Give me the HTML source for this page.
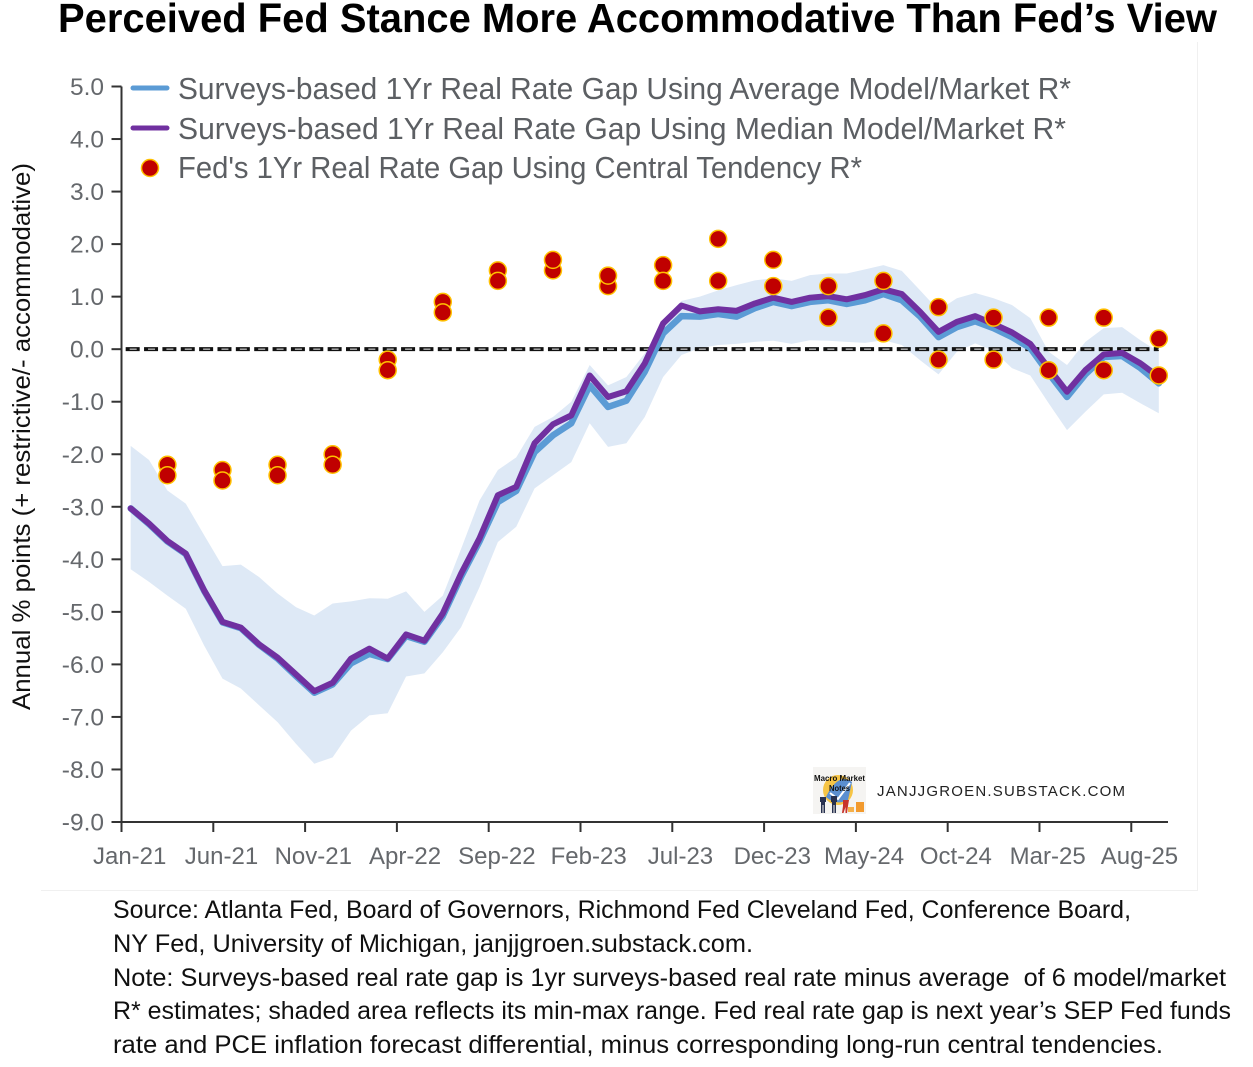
<!DOCTYPE html>
<html lang="en">
<head>
<meta charset="utf-8">
<title>Perceived Fed Stance More Accommodative Than Fed's View</title>
<style>
html,body{margin:0;padding:0;background:#fff;width:1253px;height:1067px;overflow:hidden}
svg{display:block}
text{font-family:"Liberation Sans",Arial,sans-serif;white-space:pre}
.legend-text{font-size:30.500px;fill:#5c5f63}
.note{font-size:25px;fill:#101010}
.tick-text{fill:#65686c}
</style>
</head>
<body>
<svg id="chart" xmlns="http://www.w3.org/2000/svg" width="1253" height="1067" viewBox="0 0 1253 1067">
  <rect x="0" y="0" width="1253" height="1067" fill="#ffffff"/>
  <path d="M41 890.5H1197.5V42" fill="none" stroke="#f0f0f0" stroke-width="1"/>
  <text x="58" y="32" font-size="41" font-weight="700" fill="#000" textLength="1159" lengthAdjust="spacingAndGlyphs">Perceived Fed Stance More Accommodative Than Fed’s View</text>
  <text transform="translate(30,710) rotate(-90)" font-size="25" fill="#111" textLength="547" lengthAdjust="spacingAndGlyphs">Annual % points (+ restrictive/- accommodative)</text>

  <g id="plot"></g>

  <g>
    <line x1="133" y1="88" x2="167" y2="88" stroke="#5b9bd5" stroke-width="5" stroke-linecap="round"/>
    <text class="legend-text" x="178" y="99" textLength="893" lengthAdjust="spacingAndGlyphs">Surveys-based 1Yr Real Rate Gap Using Average Model/Market R*</text>
    <line x1="133" y1="128" x2="167" y2="128" stroke="#7030a0" stroke-width="5" stroke-linecap="round"/>
    <text class="legend-text" x="178" y="139" textLength="888" lengthAdjust="spacingAndGlyphs">Surveys-based 1Yr Real Rate Gap Using Median Model/Market R*</text>
    <circle cx="150" cy="168" r="8.500" fill="#c00000" stroke="#ffc000" stroke-width="1.500"/>
    <text class="legend-text" x="178" y="178" textLength="684" lengthAdjust="spacingAndGlyphs">Fed's 1Yr Real Rate Gap Using Central Tendency R*</text>
  </g>

  <g>
    <rect x="813" y="767" width="53" height="47" fill="#f5f4f2"/>
    <circle cx="838" cy="790" r="15" fill="#f6c445"/>
    <path d="M826 797 Q838 772 852 782 L848 800 Q836 806 826 797Z" fill="#5b8fd0"/>
    <path d="M830 793 L838 799 L850 783" fill="none" stroke="#ffffff" stroke-width="2"/>
    <path d="M820 797h6v5h-1v11h-1.500v-8h-1v8H821v-11h-1z" fill="#28314f"/>
    <path d="M831 796h6v6h-1v11h-1.500v-8h-1v8H832v-11h-1z" fill="#28314f"/>
    <path d="M843 800h6l-1 6-1 7h-1.500v-6l-2 6H842l1-7z" fill="#c8322b"/>
    <rect x="856" y="802" width="8" height="10" fill="#f29a2e"/>
    <rect x="848" y="807" width="6" height="5" fill="#f6b04a"/>
    <text x="814" y="781" font-size="8" font-weight="700" fill="#111" textLength="51" lengthAdjust="spacingAndGlyphs">Macro Market</text>
    <text x="829" y="791" font-size="8" font-weight="700" fill="#111" textLength="21" lengthAdjust="spacingAndGlyphs">Notes</text>
  </g>
  <text x="877" y="796" font-size="15" fill="#222" textLength="248" lengthAdjust="spacing">JANJJGROEN.SUBSTACK.COM</text>

  <g>
    <text class="note" x="113" y="918" textLength="1018" lengthAdjust="spacingAndGlyphs">Source: Atlanta Fed, Board of Governors, Richmond Fed Cleveland Fed, Conference Board,</text>
    <text class="note" x="113" y="952" textLength="640" lengthAdjust="spacingAndGlyphs">NY Fed, University of Michigan, janjjgroen.substack.com.</text>
    <text class="note" x="113" y="986" textLength="1113" lengthAdjust="spacingAndGlyphs">Note: Surveys-based real rate gap is 1yr surveys-based real rate minus average  of 6 model/market</text>
    <text class="note" x="113" y="1019" textLength="1118" lengthAdjust="spacingAndGlyphs">R* estimates; shaded area reflects its min-max range. Fed real rate gap is next year’s SEP Fed funds</text>
    <text class="note" x="113" y="1053" textLength="1050" lengthAdjust="spacingAndGlyphs">rate and PCE inflation forecast differential, minus corresponding long-run central tendencies.</text>
  </g>
</svg>
<script>
const months = ['Jan-21','Feb-21','Mar-21','Apr-21','May-21','Jun-21','Jul-21','Aug-21','Sep-21','Oct-21','Nov-21','Dec-21',
'Jan-22','Feb-22','Mar-22','Apr-22','May-22','Jun-22','Jul-22','Aug-22','Sep-22','Oct-22','Nov-22','Dec-22',
'Jan-23','Feb-23','Mar-23','Apr-23','May-23','Jun-23','Jul-23','Aug-23','Sep-23','Oct-23','Nov-23','Dec-23',
'Jan-24','Feb-24','Mar-24','Apr-24','May-24','Jun-24','Jul-24','Aug-24','Sep-24','Oct-24','Nov-24','Dec-24',
'Jan-25','Feb-25','Mar-25','Apr-25','May-25','Jun-25','Jul-25','Aug-25','Sep-25'];
const averageGap = [-3.03,-3.33,-3.66,-3.90,-4.60,-5.20,-5.31,-5.63,-5.89,-6.22,-6.54,-6.38,-5.98,-5.80,-5.90,-5.46,-5.57,-5.08,-4.33,-3.66,-2.91,
-2.70,-1.96,-1.64,-1.41,-0.69,-1.10,-0.98,-0.43,0.30,0.63,0.62,0.67,0.62,0.78,0.90,0.82,0.90,0.93,0.86,0.93,1.05,0.93,0.62,0.23,0.42,0.53,0.40,0.23,0.02,-0.46,-0.91,-0.48,-0.15,-0.13,-0.36,-0.65];
const medianGap = [-3.03,-3.32,-3.65,-3.89,-4.59,-5.19,-5.30,-5.62,-5.87,-6.19,-6.51,-6.35,-5.89,-5.70,-5.89,-5.43,-5.55,-5.03,-4.27,-3.60,-2.78,
-2.62,-1.79,-1.43,-1.26,-0.50,-0.91,-0.80,-0.27,0.49,0.83,0.72,0.76,0.73,0.87,0.98,0.90,0.98,1.01,0.95,1.03,1.14,1.05,0.71,0.33,0.52,0.63,0.48,0.32,0.10,-0.36,-0.81,-0.40,-0.10,-0.07,-0.27,-0.53];
const rangeMax = [-1.84,-2.11,-2.69,-2.94,-3.54,-4.13,-4.10,-4.34,-4.65,-4.91,-5.07,-4.84,-4.80,-4.74,-4.75,-4.61,-5.00,-4.69,-3.80,-2.88,-2.30,
-2.06,-1.48,-1.29,-1.00,-0.30,-0.69,-0.53,-0.08,0.55,0.92,1.00,1.12,1.22,1.31,1.35,1.30,1.41,1.44,1.44,1.52,1.60,1.49,1.12,0.74,0.97,1.07,0.97,0.84,0.59,-0.05,-0.30,0.14,0.40,0.42,0.17,-0.05];
const rangeMin = [-4.19,-4.43,-4.69,-4.94,-5.64,-6.27,-6.46,-6.78,-7.10,-7.51,-7.89,-7.77,-7.26,-6.97,-6.93,-6.23,-6.17,-5.77,-5.29,-4.53,-3.67,
-3.38,-2.65,-2.40,-2.15,-1.41,-1.86,-1.79,-1.29,-0.53,-0.11,0.02,0.08,0.10,0.14,0.16,0.10,0.17,0.16,0.14,0.12,0.17,0.08,-0.21,-0.48,-0.05,0.11,-0.03,-0.36,-0.50,-1.03,-1.54,-1.19,-0.86,-0.83,-1.03,-1.22];
const fedMonths = ['Mar-21','Jun-21','Sep-21','Dec-21','Mar-22','Jun-22','Sep-22','Dec-22','Mar-23','Jun-23','Sep-23','Dec-23','Mar-24','Jun-24','Sep-24','Dec-24','Mar-25','Jun-25','Sep-25'];
const fedFirst = [-2.2,-2.3,-2.2,-2.0,-0.2,0.9,1.5,1.5,1.2,1.6,2.1,1.7,1.2,1.3,0.8,0.6,0.6,0.6,0.2];
const fedSecond = [-2.4,-2.5,-2.4,-2.2,-0.4,0.7,1.3,1.7,1.4,1.3,1.3,1.2,0.6,0.3,-0.2,-0.2,-0.4,-0.4,-0.5];
const yTickValues = [5,4,3,2,1,0,-1,-2,-3,-4,-5,-6,-7,-8,-9];
const yTickLabels = ['5.0','4.0','3.0','2.0','1.0','0.0','-1.0','-2.0','-3.0','-4.0','-5.0','-6.0','-7.0','-8.0','-9.0'];
const xTickLabels = ['Jan-21','Jun-21','Nov-21','Apr-22','Sep-22','Feb-23','Jul-23','Dec-23','May-24','Oct-24','Mar-25','Aug-25'];

const NS = 'http://www.w3.org/2000/svg';
const plot = document.getElementById('plot');
const axisLeft = 121.5, axisRight = 1168, axisTop = 86.5, axisBottom = 822;
const band = (axisRight - axisLeft) / months.length;
const yMin = -9, yMax = 5;
function xBand(i){ return axisLeft + band * i; }
function xScale(i){ return xBand(i) + band / 2; }
function yScale(v){ return axisBottom - (v - yMin) / (yMax - yMin) * (axisBottom - axisTop); }
function make(tag, attrs, parent){
  const el = document.createElementNS(NS, tag);
  for (const k in attrs) el.setAttribute(k, attrs[k]);
  (parent || plot).appendChild(el);
  return el;
}
function linePath(values){
  return values.map((v, i) => (i ? 'L' : 'M') + xScale(i).toFixed(2) + ' ' + yScale(v).toFixed(2)).join('');
}

// min-max range
const areaD = linePath(rangeMax) + rangeMin.map((v, i) => i).reverse().map(i => 'L' + xScale(i).toFixed(2) + ' ' + yScale(rangeMin[i]).toFixed(2)).join('') + 'Z';
const area = make('path', {d: areaD, fill: '#deE9f6'});



// zero reference line
const zeroD = 'M' + (xScale(0) - 5) + ' ' + yScale(0) + 'H' + xScale(months.length - 1);
const zeroOuter = make('path', {d: zeroD, fill: 'none', stroke: '#111', 'stroke-width': 4, 'stroke-dasharray': '14 ' + (band - 14)});


const zeroInner = make('path', {d: zeroD, fill: 'none', stroke: '#b5b5b5', 'stroke-width': 1.3, 'stroke-dasharray': '7 ' + (band - 7), 'stroke-dashoffset': -4});



// axes
const yAxisLine = make('line', {x1: axisLeft, y1: axisTop, x2: axisLeft, y2: axisBottom + 10, stroke: '#333', 'stroke-width': 2});


const xAxisLine = make('line', {x1: axisLeft, y1: axisBottom, x2: axisRight, y2: axisBottom, stroke: '#333', 'stroke-width': 2});



yTickValues.forEach((v, i) => {
  const y = yScale(v);
  const tick = make('line', {x1: axisLeft - 10, y1: y, x2: axisLeft, y2: y, stroke: '#333', 'stroke-width': 2});
  
  
  const label = make('text', {x: 104, y: y + 8.5, 'text-anchor': 'end', 'font-size': 24.5, class: 'tick-text'});
  
  
  label.textContent = yTickLabels[i];
});
xTickLabels.forEach((name) => {
  const i = months.indexOf(name);
  const x = xBand(i);
  const tick = make('line', {x1: x, y1: axisBottom, x2: x, y2: axisBottom + 10, stroke: '#333', 'stroke-width': 2});
  
  
  const label = make('text', {x: xScale(i) - 1, y: 864, 'text-anchor': 'middle', 'font-size': 24, class: 'tick-text'});
  
  
  label.textContent = name;
});

// lines
const avgLine = make('path', {d: linePath(averageGap), fill: 'none', stroke: '#5b9bd5', 'stroke-width': 6.5, 'stroke-linejoin': 'round', 'stroke-linecap': 'round'});


const medLine = make('path', {d: linePath(medianGap), fill: 'none', stroke: '#7030a0', 'stroke-width': 6, 'stroke-linejoin': 'round', 'stroke-linecap': 'round'});



// Fed points
[fedFirst, fedSecond].forEach((series) => {
  series.forEach((v, k) => {
    const dot = make('circle', {cx: xScale(months.indexOf(fedMonths[k])), cy: yScale(v), r: 8.5, fill: '#c00000', stroke: '#ffc000', 'stroke-width': 1.5});
    
    
  });
});
</script>
</body>
</html>
